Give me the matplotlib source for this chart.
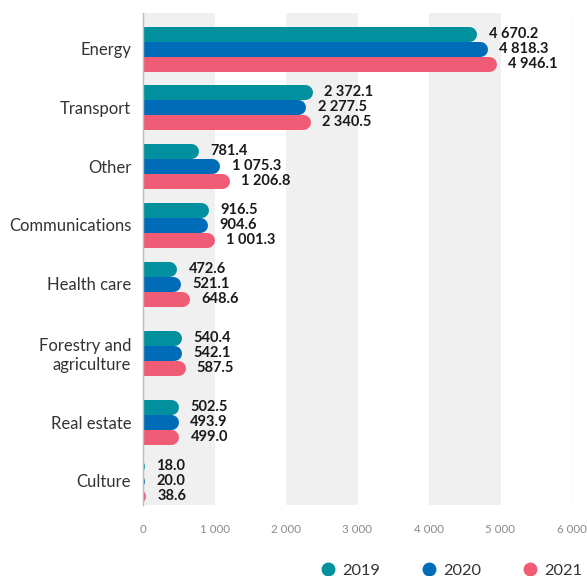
import numpy as np
import matplotlib
matplotlib.use('Agg')
import matplotlib.pyplot as plt
from matplotlib.lines import Line2D

# data
categories = ['Energy', 'Transport', 'Other', 'Communications', 'Health care',
              'Forestry and\nagriculture', 'Real estate', 'Culture']
years = ['2019', '2020', '2021']
values_2019 = [4670.2, 2372.1, 781.4, 916.5, 472.6, 540.4, 502.5, 18.0]
values_2020 = [4818.3, 2277.5, 1075.3, 904.6, 521.1, 542.1, 493.9, 20.0]
values_2021 = [4946.1, 2340.5, 1206.8, 1001.3, 648.6, 587.5, 499.0, 38.6]
x_ticks = [0, 1000, 2000, 3000, 4000, 5000, 6000]

COLORS = ['#00909e', '#006cb8', '#f05c75']
BAND_COLOR = '#f0f0f0'
TEXT_COLOR = '#333333'
DPI = 100
W, H = 587, 576
BAR_PX = 15          # bar thickness in pixels
ROW_PX = 58.7        # distance between single-line rows

plt.rcParams['font.family'] = ['Lato', 'DejaVu Sans']

fig = plt.figure(figsize=(W / DPI, H / DPI), dpi=DPI)
ax_left, ax_right, ax_top, ax_bottom = 143, 572, 13, 505
ax = fig.add_axes([ax_left / W, (H - ax_bottom) / H,
                   (ax_right - ax_left) / W, (ax_bottom - ax_top) / H])

# row positions: a two-line label gets a bit more room
pos = [0.0]
for a, b in zip(categories[:-1], categories[1:]):
    extra = 0.18 if ('\n' in a or '\n' in b) else 0.0
    pos.append(pos[-1] + 1 + extra)
pos = np.array(pos)

ax.set_xlim(0, 6000)
ax.set_ylim(pos[-1] + 24 / ROW_PX, pos[0] - 35.5 / ROW_PX)

px_per_x = (ax_right - ax_left) / 6000
radius = BAR_PX / 2 / px_per_x
bar_step = BAR_PX / ROW_PX

# grey bands
for start in x_ticks[:-1:2]:
    ax.axvspan(start, start + 1000, color=BAND_COLOR, lw=0, zorder=0)
ax.axvline(6000, color='#cccccc', lw=1, ls=(0, (3, 3)), zorder=1)

series = [values_2019, values_2020, values_2021]
for i, (vals, color) in enumerate(zip(series, COLORS)):
    for y, v in zip(pos, vals):
        yy = y + (i - 1) * bar_step
        # rounded bar end: round cap ending exactly at the value
        ax.plot([-radius * 2, v - radius], [yy, yy], color=color,
                lw=BAR_PX * 72 / DPI, solid_capstyle='round', zorder=2 + i)
        label = f'{v:,.1f}'.replace(',', ' ')
        ax.annotate(label, xy=(v, yy), xytext=(8.5, 0), textcoords='offset points',
                    ha='left', va='center', fontsize=10.5, fontweight='bold',
                    color='#1a1a1a', zorder=10)

# axes styling
for side in ['top', 'right', 'bottom']:
    ax.spines[side].set_visible(False)
ax.spines['left'].set_color('#bbbbbb')
ax.spines['left'].set_linewidth(1)
ax.spines['left'].set_zorder(6)

ax.set_yticks(pos)
ax.set_yticklabels(categories, fontsize=12, color=TEXT_COLOR)
ax.set_xticks(x_ticks)
ax.set_xticklabels([f'{t:,}'.replace(',', ' ') for t in x_ticks],
                   fontsize=8.3, color='#8a8a8a')
ax.tick_params(axis='y', length=0, pad=8.5)
ax.tick_params(axis='x', length=0, pad=14)

# legend
handles = [Line2D([], [], marker='o', ls='none', markersize=9,
                  markerfacecolor=c, markeredgecolor=c) for c in COLORS]
fig.legend(handles, years, loc='lower right', bbox_to_anchor=(1.003, -0.014),
           ncol=3, frameon=False, fontsize=11.8, handlelength=1.0,
           handletextpad=0.35, columnspacing=2.5, borderaxespad=0,
           labelcolor=TEXT_COLOR)

plt.savefig('out.png', dpi=DPI)
